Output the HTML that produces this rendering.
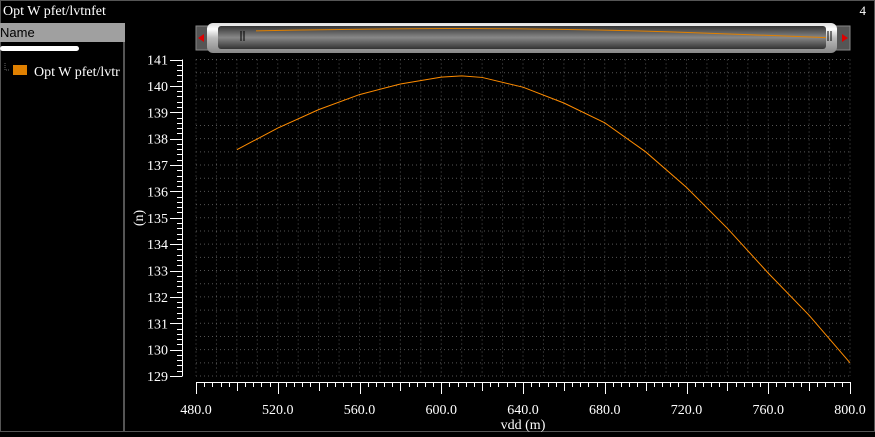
<!DOCTYPE html>
<html><head><meta charset="utf-8"><style>
body{margin:0;background:#000;width:875px;height:432px;overflow:hidden;font-family:"Liberation Serif",serif;color:#fff}
</style></head><body>
<svg width="875" height="432" xmlns="http://www.w3.org/2000/svg">
<defs>
<linearGradient id="sg" x1="0" y1="0" x2="0" y2="1"><stop offset="0" stop-color="#ddd"/><stop offset="0.2" stop-color="#fff"/><stop offset="0.5" stop-color="#bbb"/><stop offset="1" stop-color="#888"/></linearGradient>
<linearGradient id="ig" x1="0" y1="0" x2="0" y2="1"><stop offset="0" stop-color="#333"/><stop offset="0.5" stop-color="#888"/><stop offset="1" stop-color="#333"/></linearGradient>
</defs>
<rect x="0.5" y="0.5" width="874" height="431" fill="none" stroke="#555"/>
<text x="3" y="15" font-size="14" fill="#fff">Opt W pfet/lvtnfet</text>
<text x="866" y="15" font-size="13" fill="#fff" text-anchor="end">4</text>
<g>
<rect x="0" y="23" width="125" height="19" fill="#a0a0a0"/>
<text x="0" y="37" font-size="13" fill="#000" font-family="Liberation Sans,sans-serif">Name</text>
<rect x="0" y="46" width="79" height="5" rx="2.5" fill="#fff"/>
<line x1="124" y1="42" x2="124" y2="432" stroke="#555" stroke-width="2"/>
<path d="M5 63 V70 H10" stroke="#666" stroke-dasharray="1 1" fill="none"/>
<rect x="13" y="65" width="14" height="10" fill="#e08000"/>
<text x="34" y="76" font-size="14" fill="#fff">Opt W pfet/lvtr</text>
</g>
<g>
<rect x="196" y="26" width="20" height="24" fill="#555" stroke="#888"/>
<polygon points="198,38 204,34 204,42" fill="#d00"/>
<rect x="830" y="26" width="20" height="24" fill="#555" stroke="#888"/>
<polygon points="848,38 842,34 842,42" fill="#d00"/>
<rect x="207" y="23" width="630" height="30" rx="6" fill="url(#sg)"/>
<rect x="218" y="26" width="608" height="23" rx="3" fill="url(#ig)"/>
<path d="M241 31V41M244 31V41M828 31V41M831 31V41" stroke="#000" stroke-width="1"/>
<polyline id="mini" fill="none" stroke="#e08000" stroke-width="1"/>
</g>
<g id="grid"></g>
<g id="axes"></g>
<polyline id="curve" fill="none" stroke="#ff8c00" stroke-width="1"/>
<text x="523" y="429" font-size="14" fill="#fff" text-anchor="middle">vdd (m)</text>
<text x="0" y="0" font-size="14" fill="#fff" text-anchor="middle" transform="translate(143,218) rotate(-90)">(n)</text>
</svg>
<script>
const xValues=[500,520,540,560,580,600,610,620,640,660,680,700,720,740,760,780,800];
const yValues=[137.58,138.4,139.1,139.67,140.07,140.33,140.38,140.32,139.95,139.35,138.6,137.5,136.15,134.6,132.9,131.3,129.5];
const xTickLabels=["480.0","520.0","560.0","600.0","640.0","680.0","720.0","760.0","800.0"];
const yTickLabels=["129","130","131","132","133","134","135","136","137","138","139","140","141"];
const NS="http://www.w3.org/2000/svg";
const X0=196,X1=850,Y0=376,Y1=59.5;
const sx=v=>X0+(v-480)/(800-480)*(X1-X0);
const sy=v=>Y0-(v-129)/(141-129)*(Y0-Y1);
function mk(t,a,p){const e=document.createElementNS(NS,t);for(const k in a)e.setAttribute(k,a[k]);p.appendChild(e);return e;}
const grid=document.getElementById('grid'),axes=document.getElementById('axes');
for(let v=480;v<=800;v+=10){const l=mk('line',{x1:sx(v),x2:sx(v),y1:Y1,y2:Y0,stroke:'#555','stroke-dasharray':'1 3'},grid);

}
for(let v=129;v<=141;v+=0.5){const l=mk('line',{x1:X0,x2:X1,y1:sy(v),y2:sy(v),stroke:'#555','stroke-dasharray':'1 3'},grid);

}
mk('line',{x1:182.5,x2:182.5,y1:Y1,y2:Y0+0.5,stroke:'#fff'},axes);
for(let i=0;i<=60;i++){const v=129+i*0.2,y=Math.round(sy(v))+0.5;const maj=i%5==0;mk('line',{x1:maj?170:177,x2:182,y1:y,y2:y,stroke:'#fff'},axes);}
yTickLabels.forEach(s=>{const t=mk('text',{x:168,y:sy(+s)+5,'font-size':14,fill:'#fff','text-anchor':'end'},axes);t.textContent=s;

});
mk('line',{x1:X0,x2:X1+1,y1:382.5,y2:382.5,stroke:'#fff'},axes);
for(let v=480;v<=800;v+=4){const x=Math.round(sx(v))+0.5;const maj=v%40==0,mid=v%20==0;mk('line',{x1:x,x2:x,y1:382,y2:maj?394:(mid?391:387),stroke:'#fff'},axes);}
xTickLabels.forEach(s=>{const t=mk('text',{x:sx(+s),y:414,'font-size':14,fill:'#fff','text-anchor':'middle'},axes);t.textContent=s;

});
document.getElementById('curve').setAttribute('points',xValues.map((x,i)=>sx(x)+','+sy(yValues[i])).join(' '));
const mx=v=>218+(v-480)/(320)*608,my=v=>38-(v-129)/12*10;
document.getElementById('mini').setAttribute('points',xValues.map((x,i)=>mx(x)+','+my(yValues[i])).join(' '));
</script>
</body></html>
